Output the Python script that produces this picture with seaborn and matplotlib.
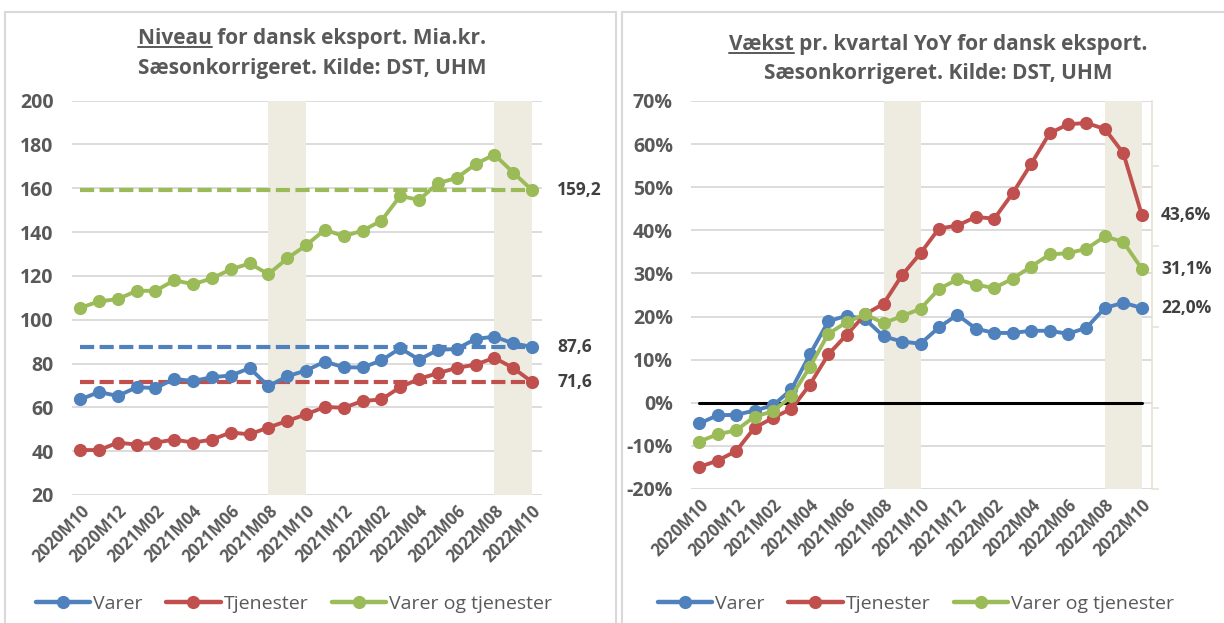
import matplotlib

matplotlib.use("Agg")
import matplotlib.pyplot as plt
import pandas as pd
import seaborn as sns
from matplotlib.lines import Line2D
from matplotlib.patches import Rectangle
from matplotlib.ticker import FuncFormatter

# --- data -----------------------------------------------------------------
months = [
    "2020M10", "2020M11", "2020M12", "2021M01", "2021M02", "2021M03", "2021M04",
    "2021M05", "2021M06", "2021M07", "2021M08", "2021M09", "2021M10", "2021M11",
    "2021M12", "2022M01", "2022M02", "2022M03", "2022M04", "2022M05", "2022M06",
    "2022M07", "2022M08", "2022M09", "2022M10",
]
series_names = ["Varer", "Tjenester", "Varer og tjenester"]

# Niveau, mia. kr.
niveau_varer = [63.6, 67.0, 65.2, 69.2, 68.8, 73.0, 72.0, 73.8, 74.5, 77.9, 69.7, 74.2, 76.8,
                80.9, 78.3, 78.2, 81.4, 87.0, 81.8, 86.2, 86.7, 91.2, 92.3, 89.2, 87.6]
niveau_tjenester = [40.5, 40.5, 43.9, 43.0, 43.9, 45.3, 43.9, 45.3, 48.5, 47.7, 50.8, 53.8, 56.8,
                    60.2, 59.8, 62.9, 63.6, 69.2, 73.0, 75.6, 78.0, 79.5, 82.6, 78.0, 71.6]
niveau_total = [105.4, 108.4, 109.4, 113.2, 113.2, 118.0, 116.2, 118.9, 123.0, 125.7, 120.8, 128.0,
                134.0, 141.1, 138.1, 140.7, 145.2, 156.5, 154.7, 162.3, 164.7, 171.0, 175.4, 167.2, 159.2]

# Vaekst YoY, pct.
vaekst_varer = [-4.8, -2.9, -2.8, -1.8, -0.6, 3.1, 11.2, 18.9, 20.2, 19.4, 15.4, 14.2, 13.7,
                17.5, 20.4, 17.2, 16.2, 16.2, 16.7, 16.7, 16.0, 17.4, 22.0, 23.2, 22.0]
vaekst_tjenester = [-14.9, -13.4, -11.2, -5.8, -3.5, -1.4, 4.2, 11.2, 15.8, 20.5, 23.0, 29.6, 34.7,
                    40.4, 41.1, 43.1, 42.7, 48.6, 55.4, 62.5, 64.6, 64.9, 63.5, 57.9, 43.6]
vaekst_total = [-9.0, -7.3, -6.4, -3.2, -2.0, 1.5, 8.3, 16.0, 18.7, 20.5, 18.5, 20.1, 21.8,
                26.4, 28.6, 27.4, 26.6, 28.8, 31.6, 34.4, 34.7, 35.7, 38.6, 37.3, 31.1]

shaded_periods = [("2021M08", "2021M10"), ("2022M08", "2022M10")]

# --- style ----------------------------------------------------------------
palette = {"Varer": "#4F81BD", "Tjenester": "#C0504D", "Varer og tjenester": "#9BBB59"}
TXT = "#595959"
DARK = "#404040"
GRID = "#D9D9D9"
BAND = "#EEECE1"
FONT = ["Open Sans", "DejaVu Sans"]

sns.set_theme(style="white")
plt.rcParams["font.family"] = FONT


def to_long(values_by_series):
    rows = []
    for name, vals in zip(series_names, values_by_series):
        for i, v in enumerate(vals):
            rows.append({"pos": i, "month": months[i], "serie": name, "value": v})
    return pd.DataFrame(rows)


def draw_lines(ax, df):
    sns.lineplot(data=df, x="pos", y="value", hue="serie", hue_order=series_names,
                 palette=palette, marker="o", markersize=9.5, markeredgewidth=0,
                 linewidth=2.8, legend=False, ax=ax, zorder=3)


def style_axis(ax, ylim, yticks, fmt):
    ax.set_xlim(-0.45, len(months) - 1 + 0.55)
    ax.set_ylim(*ylim)
    ax.set_yticks(yticks)
    ax.yaxis.set_major_formatter(FuncFormatter(fmt))
    ax.set_xticks(range(0, len(months), 2))
    ax.set_xticklabels(months[::2], rotation=45, ha="right", rotation_mode="anchor")
    ax.tick_params(axis="both", length=0, labelcolor=TXT)
    ax.tick_params(axis="y", pad=13, labelsize=14)
    ax.tick_params(axis="x", pad=5, labelsize=12)
    for lab in ax.get_xticklabels() + ax.get_yticklabels():
        lab.set_fontweight("bold")
    ax.grid(axis="y", color=GRID, lw=1.3, zorder=0)
    ax.set_axisbelow(True)
    for s in ax.spines.values():
        s.set_visible(False)
    ax.set_xlabel("")
    ax.set_ylabel("")
    for start, end in shaded_periods:
        ax.axvspan(months.index(start), months.index(end), color=BAND, lw=0, zorder=0.8)


def add_legend(ax, x_center):
    handles = [Line2D([], [], color=palette[n], lw=3.2, marker="o", markersize=9.5,
                      markeredgewidth=0) for n in series_names]
    ax.legend(handles, series_names, loc="center", ncol=3, frameon=False,
              bbox_to_anchor=(x_center, 1 - 604 / 623), bbox_transform=fig.transFigure,
              fontsize=14, handlelength=2.8, handletextpad=0.15, columnspacing=1.2,
              labelcolor=TXT)


def add_title(x, y1, y2, word, rest):
    kw = dict(fontsize=15, fontweight="bold", color=TXT)
    t1 = fig.text(x, y1, word + rest, ha="center", va="baseline", **kw)
    fig.text(x, y2, "Sæsonkorrigeret. Kilde: DST, UHM", ha="center", va="baseline", **kw)
    r = fig.canvas.get_renderer()
    bb = t1.get_window_extent(r)
    tmp = fig.text(0, 0, word, **kw)
    w = tmp.get_window_extent(r).width
    tmp.remove()
    base = y1 * fig.bbox.height - 3
    fig.add_artist(Line2D([bb.x0 / fig.bbox.width, (bb.x0 + w) / fig.bbox.width],
                          [base / fig.bbox.height] * 2, color=TXT, lw=1.4))


fig = plt.figure(figsize=(12.24, 6.23), dpi=100)

# panel frames
fig.add_artist(Rectangle((5 / 1224, -0.05), 611 / 1224, 1.05 - 12 / 623,
                         transform=fig.transFigure, fill=False, ec="#D9D9D9", lw=1.5))
fig.add_artist(Rectangle((622 / 1224, -0.05), 0.6, 1.05 - 12 / 623,
                         transform=fig.transFigure, fill=False, ec="#D9D9D9", lw=1.5))

# --- left: niveau ---------------------------------------------------------
ax1 = fig.add_axes([0.0586, 0.2055, 0.3845, 0.6329])
niveau = [niveau_varer, niveau_tjenester, niveau_total]
draw_lines(ax1, to_long(niveau))
style_axis(ax1, (20, 200), range(20, 201, 20), lambda v, p: f"{v:.0f}")
for name, vals in zip(series_names, niveau):
    ax1.plot([0, len(vals) - 1], [vals[-1], vals[-1]], color=palette[name], lw=3,
             ls=(0, (3.4, 1.3)), zorder=2)
    ax1.annotate(f"{vals[-1]:.1f}".replace(".", ","), xy=(len(vals) - 1, vals[-1]),
                 xytext=(18, 0), textcoords="offset points", va="center", ha="left",
                 fontsize=12.5, fontweight="bold", color=DARK, annotation_clip=False)
add_legend(ax1, 294 / 1224)

# --- right: vaekst --------------------------------------------------------
ax2 = fig.add_axes([0.5645, 0.2151, 0.3766, 0.6228])
vaekst = [vaekst_varer, vaekst_tjenester, vaekst_total]
draw_lines(ax2, to_long(vaekst))
style_axis(ax2, (-20, 70), range(-20, 71, 10), lambda v, p: f"{v:.0f}%")
ax2.plot([0, len(months) - 1], [0, 0], color="black", lw=2.2, zorder=2.5)
for name, vals in zip(series_names, vaekst):
    ax2.annotate(f"{vals[-1]:.1f}%".replace(".", ","), xy=(len(vals) - 1, vals[-1]),
                 xytext=(14, 0), textcoords="offset points", va="center", ha="left",
                 fontsize=12.5, fontweight="bold", color=DARK, annotation_clip=False)
# faint secondary axis on the right
twin = ax2.twinx()
twin.set_ylim(0, 4.8)
twin.set_yticks(range(5))
twin.tick_params(axis="y", length=5, width=1.2, color="#E6E2D3", labelright=False)
for k, s in twin.spines.items():
    s.set_visible(k == "right")
twin.spines["right"].set_color("#E6E2D3")
twin.spines["right"].set_linewidth(1.2)
add_legend(ax2, 916 / 1224)

add_title(312 / 1224, 1 - 44 / 623, 1 - 74 / 623, "Niveau", " for dansk eksport. Mia.kr.")
add_title(938 / 1224, 1 - 50 / 623, 1 - 79 / 623, "Vækst", " pr. kvartal YoY for dansk eksport.")

fig.savefig("out.png", dpi=100)
